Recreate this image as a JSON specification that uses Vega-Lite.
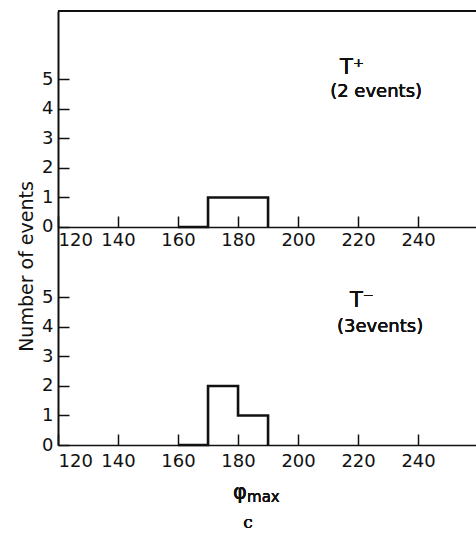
{
  "$schema": "https://vega.github.io/schema/vega-lite/v6.json",
  "width": 418,
  "height": 434,
  "autosize": {"type": "none"},
  "padding": {"left": 58, "top": 11, "right": 0, "bottom": 89},
  "background": "white",
  "config": {
    "view": {"stroke": null},
    "font": "DejaVu Sans",
    "axis": {
      "domainColor": "#111",
      "domainWidth": 1.6,
      "tickColor": "#111",
      "tickWidth": 1.5,
      "tickSize": -11,
      "labelFont": "DejaVu Sans",
      "labelFontSize": 18,
      "labelColor": "#111",
      "grid": false,
      "titleFont": "DejaVu Sans",
      "titleFontWeight": "normal",
      "titleColor": "#111"
    },
    "text": {"font": "DejaVu Sans", "fontSize": 18, "color": "#111", "align": "left", "baseline": "alphabetic"}
  },
  "datasets": {
    "plus": [
      {"phi": 160, "count": 0},
      {"phi": 170, "count": 1},
      {"phi": 180, "count": 1},
      {"phi": 190, "count": 0}
    ],
    "minus": [
      {"phi": 160, "count": 0},
      {"phi": 170, "count": 2},
      {"phi": 180, "count": 1},
      {"phi": 190, "count": 0}
    ]
  },
  "layer": [
    {
      "data": {"name": "plus"},
      "layer": [
        {
          "mark": {"type": "line", "interpolate": "step-after", "color": "#111", "strokeWidth": 2.6},
          "encoding": {
            "x": {"field": "phi", "type": "quantitative",
                  "scale": {"domain": [120, 259.3], "nice": false, "zero": false},
                  "axis": {"orient": "bottom", "offset": -218, "values": [120, 140, 160, 180, 200, 220, 240], "labelPadding": 15, "title": null}},
            "y": {"field": "count", "type": "quantitative",
                  "scale": {"domain": [-7.39, 7.32], "nice": false, "zero": false},
                  "axis": {"orient": "left", "values": [0, 1, 2, 3, 4, 5], "labelPadding": 16, "title": null}}
          }
        },
        {
          "mark": {"type": "rule", "color": "#111", "strokeWidth": 1.6},
          "encoding": {"x": {"datum": 120}, "x2": {"datum": 259.3}, "y": {"datum": 7.32}}
        },
        {
          "mark": {"type": "text", "text": "T⁺", "fontSize": 21},
          "encoding": {"x": {"datum": 214}, "y": {"datum": 5.19}}
        },
        {
          "mark": {"type": "text", "text": "(2 events)"},
          "encoding": {"x": {"datum": 210.7}, "y": {"datum": 4.41}}
        }
      ]
    },
    {
      "data": {"name": "minus"},
      "layer": [
        {
          "mark": {"type": "line", "interpolate": "step-after", "color": "#111", "strokeWidth": 2.6},
          "encoding": {
            "x": {"field": "phi", "type": "quantitative",
                  "scale": {"domain": [120, 259.3], "nice": false, "zero": false},
                  "axis": {"orient": "bottom", "values": [120, 140, 160, 180, 200, 220, 240], "labelPadding": 18, "title": null}},
            "y": {"field": "count", "type": "quantitative",
                  "scale": {"domain": [0, 14.71], "nice": false, "zero": false},
                  "axis": {"orient": "left", "values": [0, 1, 2, 3, 4, 5], "labelPadding": 16,
                           "title": "Number of events", "titleFontSize": 19, "titleAngle": -90,
                           "titleX": -26, "titleY": 255, "titleAlign": "center", "titleBaseline": "alphabetic"}}
          }
        },
        {
          "mark": {"type": "text", "text": "T⁻", "fontSize": 21},
          "encoding": {"x": {"datum": 217.3}, "y": {"datum": 4.68}}
        },
        {
          "mark": {"type": "text", "text": "(3events)"},
          "encoding": {"x": {"datum": 213}, "y": {"datum": 3.83}}
        },
        {
          "mark": {"type": "text", "text": "φ", "fontSize": 21},
          "encoding": {"x": {"datum": 178.3}, "y": {"datum": -1.83}}
        },
        {
          "mark": {"type": "text", "text": "max", "fontSize": 15},
          "encoding": {"x": {"datum": 183}, "y": {"datum": -1.93}}
        },
        {
          "mark": {"type": "text", "text": "c", "font": "DejaVu Serif", "fontSize": 17, "align": "center"},
          "encoding": {"x": {"datum": 183.3}, "y": {"datum": -2.81}}
        }
      ]
    }
  ],
  "resolve": {
    "scale": {"y": "independent"},
    "axis": {"x": "independent", "y": "independent"}
  }
}
